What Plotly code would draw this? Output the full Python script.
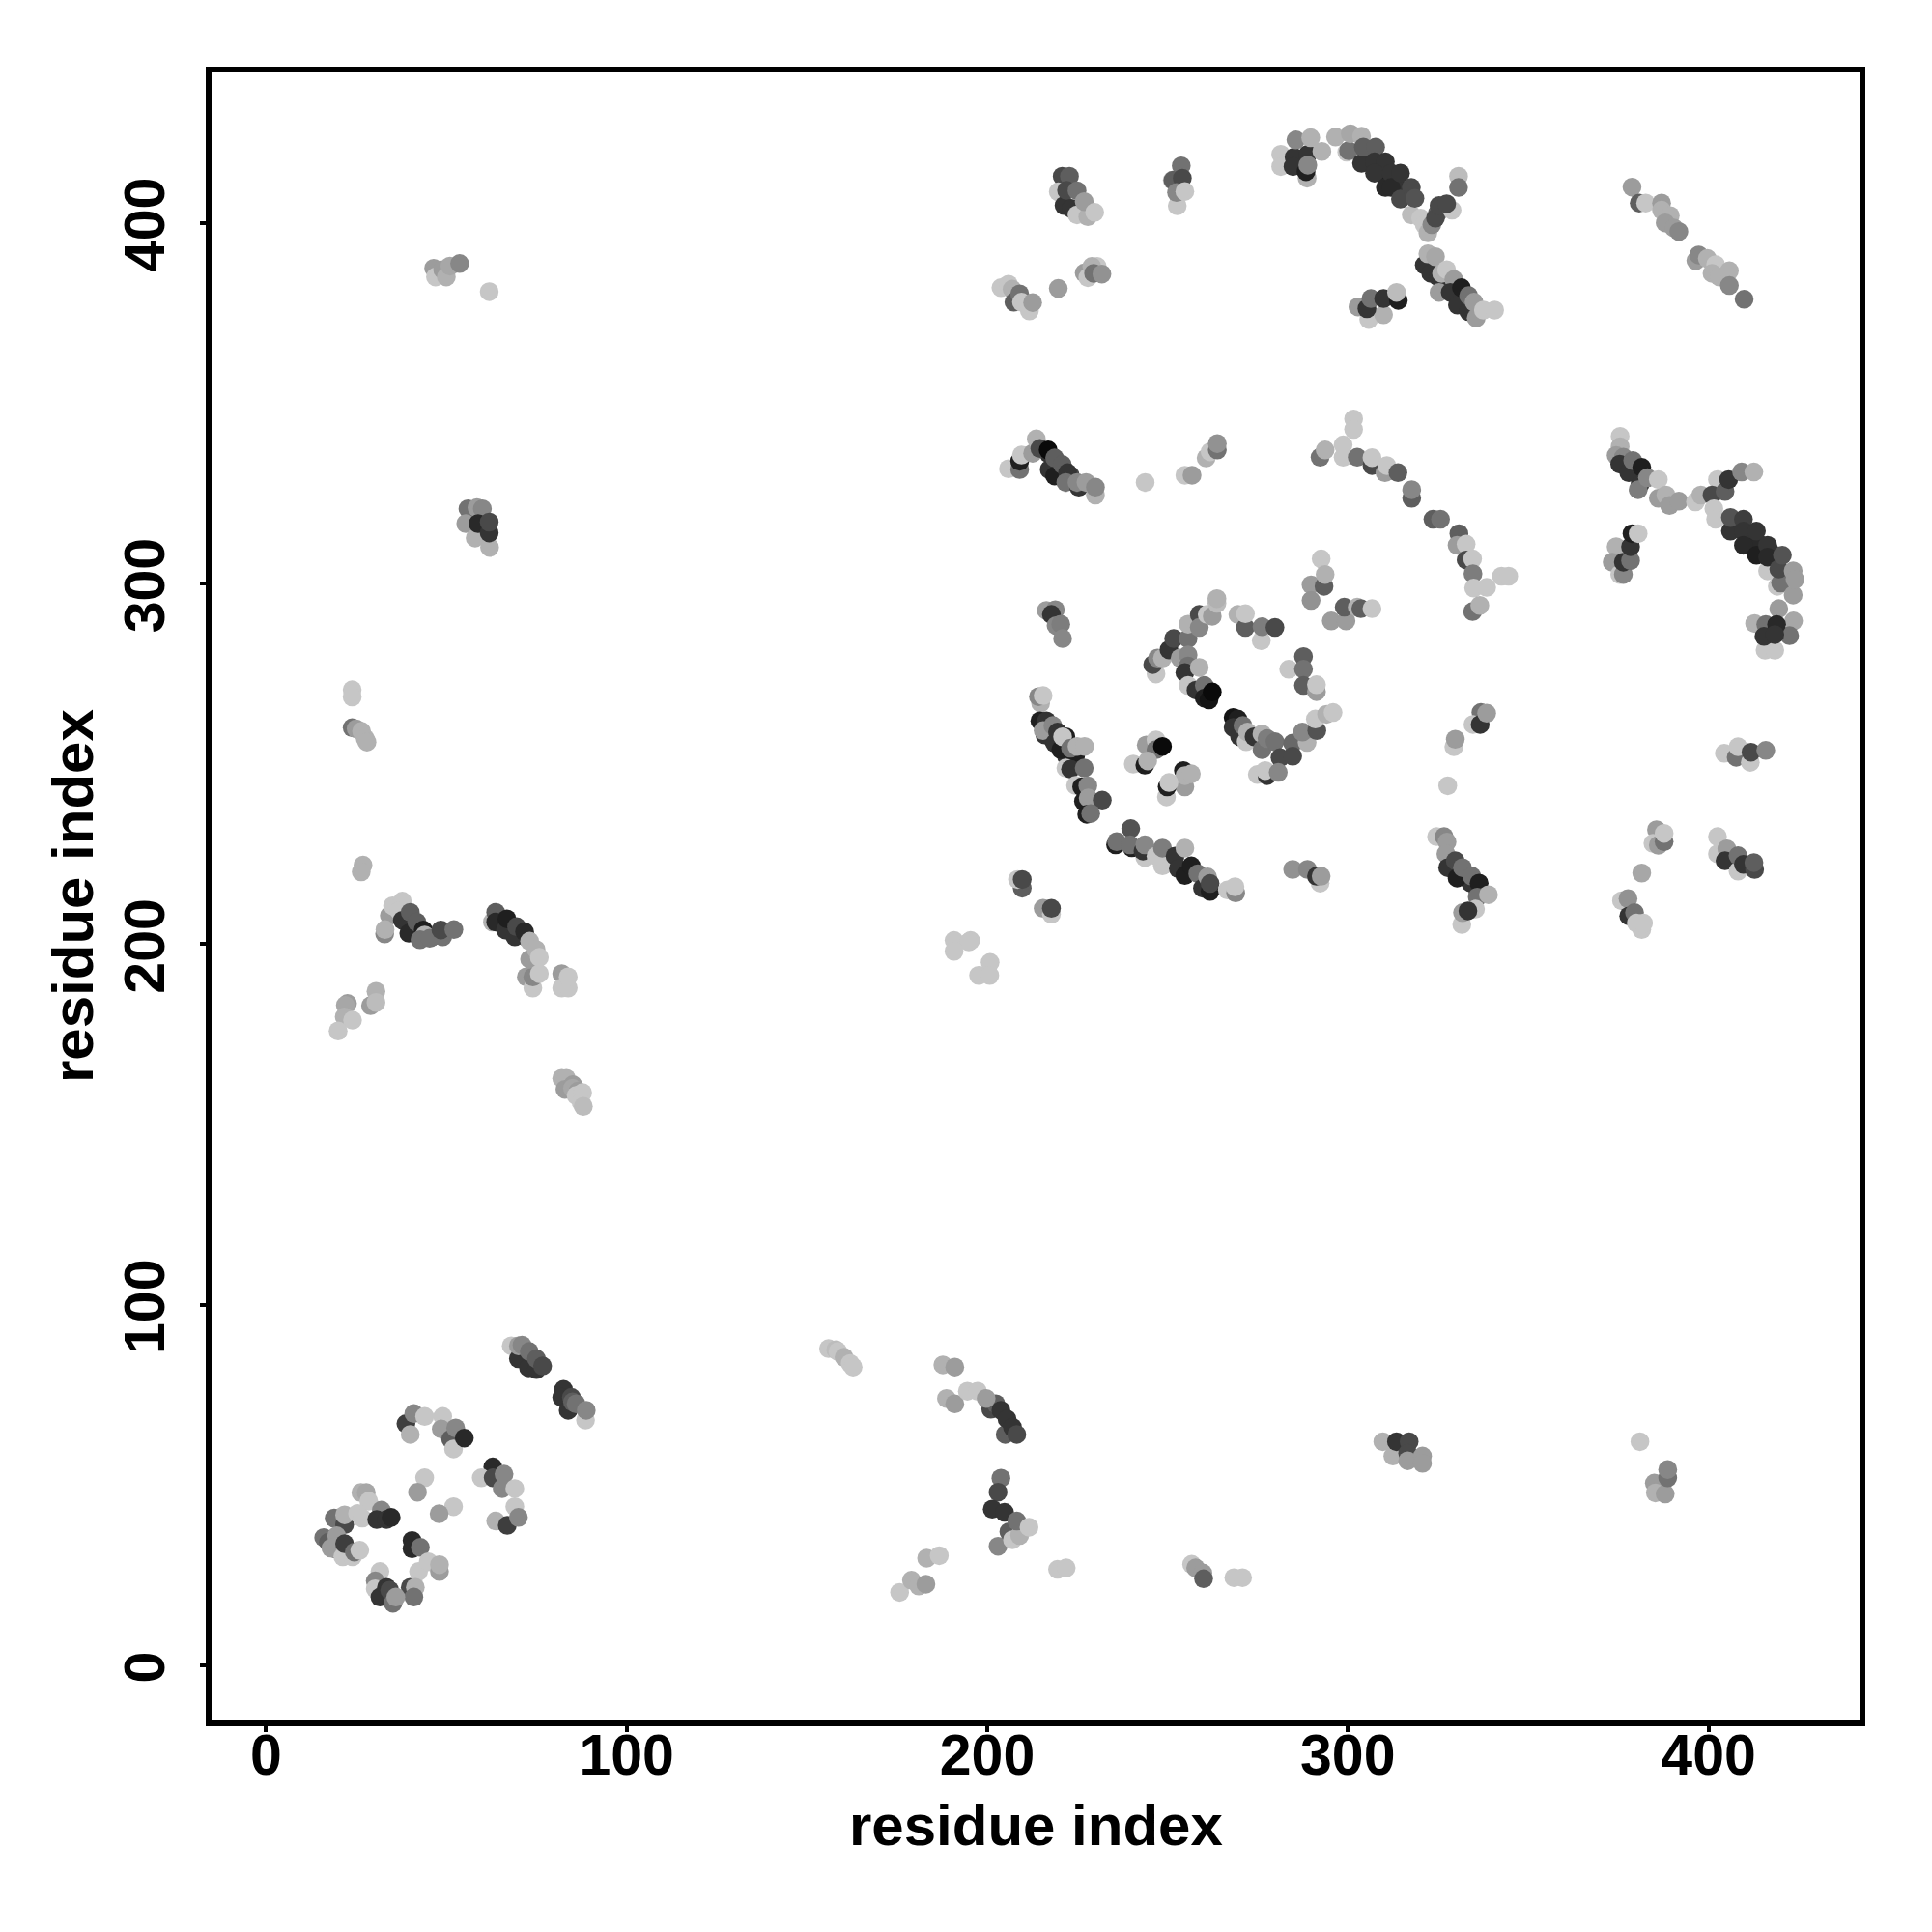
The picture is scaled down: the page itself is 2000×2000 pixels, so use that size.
import plotly.graph_objects as go

# (residue_x, residue_y, darkness 1 = light .. 10 = black)
dense_core = [(306,418,8),(309,414,9),(311,412,9),(313,411,8.5),(315,409,8),(408,316,8),(411,313,8.5),(414,311,8.5),(417,309,8),
 (328,383,8),(331,379,8),(333,377,8),(335,376,8),(330,221,8),(332,219,9),(334,217,8),(336,215,8),(217,336,8),(219,334,8),(221,332,8),(223,330,7),
 (216,258,8),(218,257,8),(222,252,8),(67,205,8),(70,203,8),(72,202,8),(40,206,8),(42,204,8),(46,202,7)]
near_origin = [(26.3,47.9,2),(27.8,47.9,2.5),(18.9,40.8,5),(21.8,39,7),(21.8,41.7,2),(28.5,45.5,1),(25.4,42.1,1),(26.7,40.8,1),(32,43,4),(30.7,40.4,8),(33.4,40.4,8),(34.7,41,8.5),
 (16,35.4,5),(17.3,34.1,6),(19.1,32.3,8),(19.6,35.9,3),(18,32.5,3),(21.3,30.1,1),(24,30.1,1),(21.8,33.7,7.5),(24.5,31.4,5),(26,31.9,1),
 (40.5,34.6,8.5),(40.5,32.3,8.5),(42.8,32.7,5),(42.3,26,1),(45,28.7,1),(48.1,26,3),(48.1,27.9,2),(40,21.6,7),(41.4,21.6,2),(41,18.9,5),(31.6,26,1),(30.3,23.4,4),(30.3,21.2,1),(33.4,21.6,8),(31.6,18.9,8),(34.3,20.8,7),(35.2,17.2,5),(36,18.9,3),
 (38.8,67,7.5),(41,69.8,4),(40,64,2),(44,69,1),(49,69,1),(48.6,65.5,3),(51.2,62.7,6),(52,60,1),(52.6,65.8,4),(55,63,8.5),
 (44,52,1),(42,48,3),(52,44,1),(48,42,3),(62.9,55,8.5),(59.7,52,1),(63,52,7),(66,53,4),(65.5,49,4),(69,49,1),(69,44,1),(63.7,40,2),(66.9,38.8,7.5),(70,41,4)]
diagonal_band = [(68,88.6,1),(70,85,8),(72.8,82.5,8),(75,82,8),(70,88.6,3),(71,88.8,4),(73,87,5),(75,85,6),(76.7,83,7),
 (82.5,76.5,8),(82,74.3,8),(83.8,70.7,8),(84.7,74.3,7),(85,73,6),(88.6,68,1),(86,72.5,5),(88.8,70.7,4)]
bottom_middle = [(156,87.8,1),(158,87.5,1.5),(158.6,87,1),(160.3,85.4,2),(162,83.7,1),(162.8,82.7,1),
 (187.7,83.3,2),(191,82.7,3),(188.7,74,2),(191,72.5,3),(205,64,6),(201,71,7),(202.4,72.5,6),(203.8,70.7,8),(205.5,68.3,8),(207,66,8),(208.2,64,7),(194.5,76,1),(197.3,76,1),(199.7,74,3),
 (203.8,51.9,5),(203,48,7),(201.4,43.3,8),(204.8,42.4,8),(203,33,4),(206,37,6),(207,34.8,1),(209,36,2),(208.2,40,5),(211.6,38.3,1),
 (175.7,20.2,1),(179,23.6,2),(181,22,2),(183,22.5,3),(183.2,29.7,2),(186.7,30.4,1),(219.5,26.6,1),(221.9,27,1),
 (256.7,28,1),(257.8,27,3),(259.8,25.6,3),(260,24,6),(268.4,24.3,1),(270.8,24.3,1),
 (309.7,62,2),(312.5,58,2),(313.5,62,8),(317,62,7),(316.6,58.8,7),(316.6,56.7,3),(320.7,58,3),(320.7,56,3),
 (381,62,1),(385,50.5,3),(385.3,47.8,2),(388,47.5,3),(388.7,52,5),(388.7,54.3,4)]
left_column = [(26.9,221.9,2),(26.4,220,2),(22.6,183.5,3),(22,183,2.5),(21.7,179.8,2),(24,178.9,1),(20,175.9,1),(30.5,186.9,2),(29,182.9,3),(30.5,183.8,1.5),
 (32.9,202.8,4),(34.2,207.9,3),(33,204,2),(35.1,210.6,1),(37.8,211.9,1),(36.9,209.2,1),(37.8,206.6,8),(39.6,203,8.5),(40,208.8,6),(41.8,206.1,6),(43.6,203.9,9),(44,202.5,2),(42.7,201.2,5),(45.4,201.6,5),(49,202,5),(48.5,203.9,7),(52.1,204,5),
 (62.8,206.1,2),(63.7,208.8,6),(63.7,206.1,8.5),(66.4,203.9,8),(66.8,207,9),(69,202,8),(69.5,204.8,7),(71.7,203.4,8.5),(72.2,190.9,3),(74,187.8,1),(74,190.9,4),(73.1,195.8,3),(75.8,191.8,1),(73.1,200.8,2),(74.9,198.5,2),(75.8,196.3,1),
 (82,191.8,3),(82,187.8,1),(83.8,187.8,1),(83.8,190.9,1),(82,162.8,2),(83.3,162.8,2),(82.9,159.7,3),(85.1,161,3),(85,160,2.5),(86.5,159.2,3),(86,158,1),(87.8,158.8,1),(87.4,156.1,1),(88,155,1.5),
 (23.9,270.5,1),(23.9,268.5,1),(23.9,260,5),(25,259.7,3),(26.5,259,2),(27.5,257,2),(28,256,2),
 (46.5,387.4,3),(47,385,1),(49,387,3),(50,385,2),(51,388,2.5),(53.7,388.7,4),(61.9,380.9,1),
 (56,320.7,5),(58.5,321,3),(60,320.7,4),(55.4,316.6,3),(58,312.6,2),(62,310,2),(58.8,316.6,8.5),(61.9,314,8),(61.9,317,7)]
top_row = [(220.8,412.9,7),(222.8,412.9,6),(219.7,408.6,1),(221.3,404.8,8),(223.3,404,8),(222,409,7),(224.9,402.2,1),(227.9,401.7,2),(224.9,408.9,5),(226.9,405.9,3),(229.8,402.9,1),
 (253.8,415.8,5),(251.3,411.8,1),(251.5,411.8,6),(254.1,412.4,7),(252.7,404.7,1),(252.5,408.4,4),(254.8,408.7,1),
 (203.8,382,1),(205.9,383,1),(206.9,381.6,2),(207.4,378,6),(209,380.3,5),(209.5,378,1),(211.7,375.6,1),(212.6,377.9,3),(219.7,381.8,3),
 (226.9,386.1,3),(227.9,384.8,1),(230.5,387.9,1),(229,387.9,2),(229.5,386,5),(231.8,385.8,3.5),
 (281.4,419,1),(281.4,415.6,1),(288.7,412.4,2),(285.1,418.2,8),(284.8,415.6,8),(285.6,423,4),(288.4,414.2,9),(288.9,419,8),(288.9,416,4),(289.7,423.6,2),(292.8,419.8,2),
 (296.6,423.8,2),(299.7,419.6,1),(300.2,420,5),(300.7,424.7,2.5),(303.8,424,2),(303.8,416.5,8),(304.3,421,6),(307.7,421,6),(307.4,416.9,8),(310.4,416.9,8),(307.4,413.8,8),(310.4,409.8,8.5),(312,413.8,8),(312,409.8,8.5),(314.6,413.8,8),(314.6,406.6,7),(317.6,402.2,1.5),(317.6,409.8,7),(318.6,406.8,6.5),
 (320.2,401.3,1),(321.2,399.5,1),(322.2,397.2,2),(323.3,399.5,4),(324.8,402.6,6),(324.3,401.3,7),(325.3,404.8,7),(328.9,403.5,1),(327.4,405.3,7),(330.7,412.9,1.5),(330.7,409.8,5),
 (321.2,388.3,8),(323,386,8),(325,385,8),(325.3,380.7,3),(322.2,391.4,2),(324.3,390.6,2.5),(326,386,2),(327.4,387,1),(329.4,384.3,3),(328.4,380.7,8),(330.4,377.2,8),(331.5,382,9),(333.5,375.4,8),(333.5,379.8,5),(335.6,373.6,3),(335,378,3),(337.6,375.8,1),(340.7,375.8,1),
 (302.8,376.7,3),(305.8,373.2,1),(309.9,374.5,2),(305.3,376.2,8),(306.4,379,5),(309.9,379,8),(314,378.5,9),(313.5,380.7,1.5),
 (378.8,409.9,3),(380.8,405.5,6),(382.6,405.5,1),(387,405.5,3),(387,403.5,2),(389.4,402,2),(388,400,3),(390.4,398.6,3),(391.8,397.6,4),(396.5,389.5,3),(397.3,391.1,4),(399.7,390.1,2),(402,388.4,1),(401,386,2),(403,385,2),(405.8,386.7,2),(405.8,382.6,4),(409.9,378.8,5)]
upper_middle = [(205.9,331.8,1),(209,331.6,5),(209,333.9,9),(209.5,335.6,1),(212.6,336.1,3),(213.6,340.1,2),(217.2,331.6,8),(214.6,337.4,7),(216.9,337,10),(218.7,329.8,9),(218.7,334.8,6),(220.8,333,6),(222.3,330.7,8),(221.8,328,5),(225.4,326.7,8),(224.9,328,4),(227.4,328,3),(230,324.5,2),(230,326.7,4),
 (243.8,328,1),(254.8,330,1),(256.8,330,3),(260.7,334.8,2),(261.8,336.5,1),(263.8,337,5),(263.8,338.8,3.5),
 (292.3,335,5),(293.7,337,2),(301.6,345.6,1),(301.6,342.7,1),(298.7,338.4,1),(298.7,335,1),(302.6,335,5),(306.7,332.7,7),(306.7,334.9,1),(310.3,330.7,3),(310.8,332.7,1),(313.9,330.7,6),(317.7,323.6,6),(317.7,326,4),(323.6,317.8,6),(325.7,317.8,5),(330.8,313.8,6),(330.3,310.6,3),(332.8,310.9,1),(332.8,306.5,7),(334.6,306.8,1),(334.7,302.7,4.5),(334.9,298.7,1),(338.5,298.9,1),(342.6,302,1),(344.6,302,1),(334.6,292.2,5),(336.6,293.9,2),
 (375.5,340.8,1),(375.5,337.9,2),(374.4,335.5,3),(376.4,335,4),(375.4,333.1,8),(377.9,330.7,8),(379,334.1,5),(381,327.4,8),(380.5,326,4.5),(381.5,332.2,9),(383.1,329.3,4),(386.1,323.6,3),(386.1,328.8,1),(388.2,324.5,2),(389.2,321.6,3),(391.8,322.8,3),
 (396.4,322.6,1),(397.9,324.5,2),(402.5,328.8,1),(401,324.5,7),(404.6,325.5,6),(405.6,328.8,8),(401.5,320.7,1),(402,317.8,1),(409.2,330.9,4),(412.6,330.9,2),
 (406.1,314.5,8),(406.1,318.3,6.5),(409.7,317.8,7.5),(409.7,314.5,8),(409.7,310.6,8.5),(413.3,307.8,9),(413.3,314.5,8),(416.4,303.5,1),(416.4,310.6,8),(416.4,307.3,8.5),(419.1,299.2,1),(420,300.1,5),(419.5,304,7),(420.5,307.8,6.5),(423.5,296.8,3),(423.5,303.5,3),(424,301.1,3),
 (419.5,293,3),(423.6,289.6,2.5),(422.5,285.5,5),(412.8,288.9,2),(415.7,281.5,1),(418.4,281.5,1),(415.9,288.6,5),(418.9,288.6,8.5),(415.4,285.3,8),(418.4,285.8,8),
 (374.4,310.2,2),(373.3,305.9,3),(375.4,302.5,1),(376.4,302.5,4),(376.4,305.9,8),(378.4,306.3,5),(378.4,310.2,8),(378.8,313.8,9),(380.5,313.8,1)]
center = [(216.4,292.5,3),(218.9,292.7,4),(217.8,291.4,8),(219.1,288.3,4),(220.4,288.7,4.5),(220.9,284.7,4),
 (214.8,266.8,2),(214.2,268.6,4),(215.5,268.9,1),(214.6,261.9,9),(216.4,261.9,8),(215.5,259.2,3),(218.2,260.6,4),(218.7,255.7,8),(219.5,258.8,8),(220.4,253.9,9),(221.8,257.5,9),(220.9,257.5,1),(224.5,252.1,9),(223.1,254.3,5),(224.9,254.8,2),(227,254.8,2),
 (221.8,248.8,1),(223.1,248.5,8),(226.9,248.8,5),(224.5,244,1),(226.2,243.6,9),(227.9,243.9,4),(226.7,239.6,9),(228,240.5,3),(231.9,239.9,7),(227.6,236,9),(228.7,236.2,5),
 (246.8,274.9,1),(245.9,277.5,7),(247.2,279.3,4),(248.6,279.3,2),(250.4,281.6,8),(251.7,284.7,7),(255.7,284.7,5),(255.7,288.7,2),(258.8,291.4,7),(258.8,287.8,4),(261,291.4,1),(262.4,290.9,3),(263.7,294.5,1.5),(263.7,295.8,2),
 (269.5,291.4,2),(271.6,287.8,6),(271.6,291.6,1),(276,284.1,1),(276.2,288,4.5),(279.8,287.8,7),
 (253.5,279.3,3),(255.7,280.2,4),(255.7,277.1,5),(254.8,275.3,8),(258.8,276.7,2),(255.7,271.7,1),(257.9,270.4,8),(260.2,271.7,5),(260.2,268.2,9),(261.5,267.7,9.5),(262.4,269.9,10),
 (268.2,262.8,9.5),(269.5,262.4,9),(268.2,260.1,8),(270,257.5,8),(270.9,260.6,5),(271.8,256.1,1),(272.2,258.8,2),(274,257.5,8),(276.2,258.3,2),(276.2,253.9,5),(277.6,257,4.5),(279.8,256.1,5),(284.7,255.7,5.5),(288.7,255.9,2),(281.2,251.7,7),(284.7,252.1,7),(274.9,247,1),(277.6,246.7,8),(277.1,248.1,1),(280.7,247.6,4),
 (287.4,258.8,4),(291.4,259.2,6.5),(291,262.4,1),(294.1,263.7,2),(295.9,264.2,1),
 (292.6,306.8,1),(289.8,299.6,3),(289.8,295.3,3.5),(293.4,299.2,6),(293.7,302.5,2),(295.4,289.6,3),(299.5,289.6,3),(299,293.4,6),(302.6,293.4,2),(303.6,293,6),(306.7,293,1),
 (287.7,279.7,6),(283.6,276.2,1),(287.7,276.2,5),(287.7,271.7,6),(291.3,270,3),(291.3,271.9,1),
 (336.9,264.2,5),(334.7,260.9,1),(336.7,260.9,8),(338.5,264,3),(329.4,254.7,1),(329.8,256.8,3),(327.7,243.9,1),
 (244.1,255.2,3),(246.8,256.6,1),(246.8,253.9,5),(248.6,254.8,10),(240.5,249.9,1),(243.7,249.6,9),(244.5,250.8,2),
 (254.8,243.6,3),(254.4,248.1,9),(254.8,246.7,2),(256.6,247.2,2),(249.7,240.8,1),(249.9,243.6,9),(250.4,244.8,1),
 (404.4,252.9,1),(407.7,251.8,5),(408.2,254.7,1),(411.6,250.4,1),(411.8,253.2,7),(415.9,253.7,4)]
lower_row = [(239.8,232,6.5),(235.6,227.5,9),(235.9,228.4,5),(240.1,226.7,9),(239.6,227.5,5),(243.7,224,1),(243.2,225.8,8),(243.7,227.5,4),(248.6,221.7,1),(246.8,224.4,1),(248.6,226.6,4.5),(252.1,224.4,8),(253,220.9,8),(254.8,226.6,2),(254.8,219,9),(256.6,221.7,9),(258.4,219.5,5),(259.7,215.5,8),(261.1,218.6,3),(261.8,214.6,9),(261.8,216.8,7),(266.6,215,1),(268.9,214.2,4),(268.7,215.9,1),
 (209.7,215.5,6),(208.4,217.9,1),(209.7,217.9,7),(215.5,209.9,3),(217.8,208.3,1),(217.8,209.9,7),
 (195.4,201,1),(190.8,201,1),(194.9,200.6,1),(190.8,198,1),(200.8,194.9,1),(197.6,191.3,1),(200.7,191.3,1),
 (284.7,220.7,3.5),(288.8,220.7,4),(292.3,216.9,1),(291.3,218.8,8),(292.6,218.8,3),
 (324.6,229.8,1),(326.7,229.8,4),(327.5,228.3,3),(327.2,225,3),(327.7,221.2,8),(329.8,223.1,7),(330.3,218.3,9),(331.8,221.2,5),(334.4,218.8,5),(336.4,216.9,9),(335.9,213,5),(339,213.7,2),(335.4,209.7,1),(331.6,205.4,1),(331.8,208.7,3),(333.3,209.2,8),
 (385.6,231.7,3),(384.6,227.9,1),(386.1,227.4,3),(387.7,228.4,5),(387.7,230.7,1),(381.5,219.7,2.5),
 (402.5,229.8,1),(402.5,225,1),(405.1,226.4,3),(404.6,223.1,8),(408.2,220.2,1),(408.2,224.5,5),(409.7,222.1,8),(412.8,220.7,7),(412.6,222.6,6),
 (375.9,212,1),(377.7,212.6,3.5),(377.9,207.8,8),(379.5,208.7,5),(380,205.8,1),(381.5,204,1),(382,205.8,1)]

x_ticks = [0, 100, 200, 300, 400]
y_ticks = [0, 100, 200, 300, 400]
axis_label = "residue index"

points = dense_core + near_origin + diagonal_band + bottom_middle + left_column + top_row + upper_middle + center + lower_row
xs = [p[0] for p in points]
ys = [p[1] for p in points]
shade = [p[2] for p in points]

FONT = "Liberation Sans"
title_font = dict(family=FONT, size=60, color="black", weight="bold")
fig = go.Figure(go.Scatter(
    x=xs, y=ys, mode="markers", showlegend=False,
    marker=dict(size=19.5, color=shade, cmin=1, cmax=10,
                colorscale=[[0, "#c6c6c6"], [1, "#0a0a0a"]], line=dict(width=0)),
))
axis = dict(
    ticks="outside", ticklen=6, tickwidth=3.5,
    tickcolor="black", showgrid=False, zeroline=False, showline=True, linecolor="black",
    linewidth=6, mirror=True, automargin=False,
    tickfont=dict(family=FONT, size=59, color="black", weight="bold"),
)
fig.update_layout(
    width=2000, height=2000, autosize=False, paper_bgcolor="white", plot_bgcolor="white",
    margin=dict(l=211, r=83, t=67, b=227),
    xaxis=dict(axis, range=[-15.1, 441.9], tickvals=x_ticks, ticklabelstandoff=-27),
    yaxis=dict(axis, range=[-15.3, 441.7], tickvals=y_ticks, tickangle=-90,
               ticklabelstandoff=13, ticklabelshift=11),
    annotations=[
        dict(text=axis_label, font=title_font, textangle=-90, showarrow=False,
             xref="paper", yref="paper", x=0, y=0.5, xanchor="center", yanchor="middle", xshift=-144),
        dict(text=axis_label, font=title_font, showarrow=False,
             xref="paper", yref="paper", x=0.5, y=0, xanchor="center", yanchor="middle", yshift=-108),
    ],
)
fig.write_html("out.html")
